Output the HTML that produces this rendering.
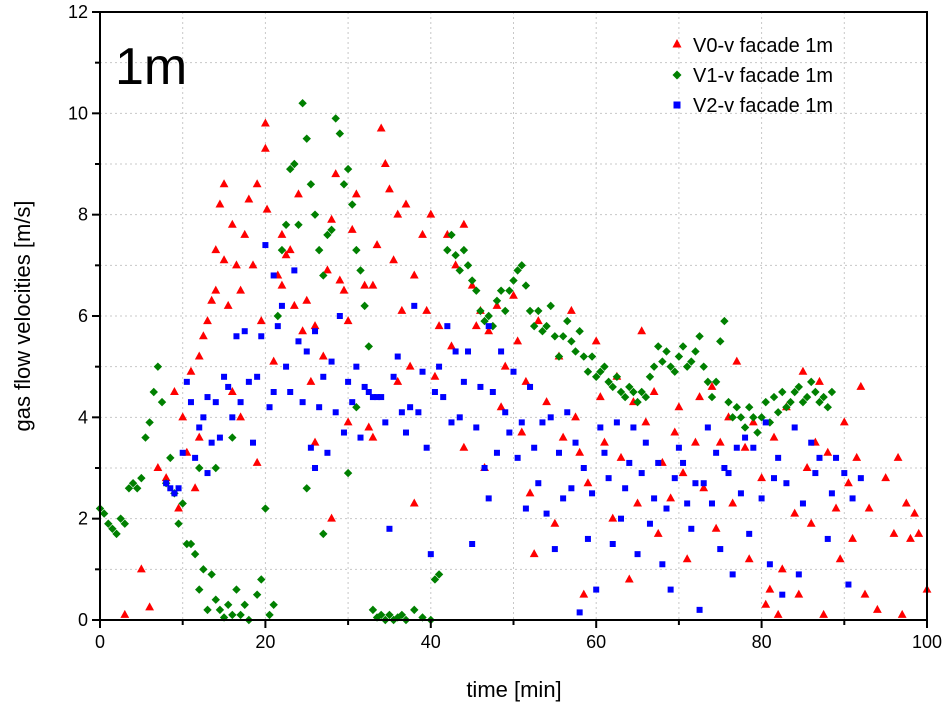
<!DOCTYPE html>
<html><head><meta charset="utf-8"><style>
body{margin:0;background:#fff;}
svg{display:block;font-family:"Liberation Sans",Arial,sans-serif;}
</style></head><body>
<svg id="chart" width="947" height="708" viewBox="0 0 947 708" xmlns="http://www.w3.org/2000/svg">
<g id="grid"></g>
<g id="pts"></g>
<g id="axes"></g>
<text x="115" y="84" font-size="52" fill="#000">1m</text>
<g>
<g><polygon points="677,39 681.5,47.5 672.5,47.5" fill="#ff0000"/><text x="693" y="52" font-size="20">V0-v facade 1m</text></g>
<g><polygon points="677,70.5 681.5,75 677,79.5 672.5,75" fill="#008000"/><text x="693" y="82" font-size="20">V1-v facade 1m</text></g>
<g><rect x="673.5" y="101.5" width="7" height="7" fill="#0000ff"/><text x="693" y="112" font-size="20">V2-v facade 1m</text></g>
</g>
<text x="514" y="697" font-size="22" text-anchor="middle">time [min]</text>
<text transform="translate(30,316) rotate(-90)" font-size="22" text-anchor="middle">gas flow velocities [m/s]</text>
</svg>
<script>
const xTicks=[0,20,40,60,80,100];
const yTicks=[0,2,4,6,8,10,12];
const v0=[3,0.1,5,1,6,0.25,7,3,8,2.8,9,4.5,9.5,2.2,10,4.0,10.5,3.3,11,4.9,11.5,2.6,12,5.2,12,3.6,12.5,5.6,13,5.9,13.5,6.3,14,6.5,14,7.3,14.5,8.2,15,8.6,15,7.1,15.5,6.2,16,7.8,16,4.5,16.5,7.0,17,6.5,17.5,7.6,18,8.3,18.5,7.0,19,8.6,19.5,5.9,20,9.8,20,9.3,20.2,8.1,21,5.1,21.5,6.8,22,7.6,22.5,7.2,23,7.3,23.5,6.2,24,8.4,24.5,5.7,25,6.3,25.5,4.7,26,5.8,27,5.2,27.5,6.9,28,7.9,28.5,8.8,29,6.7,29.5,6.5,30,5.9,30.5,7.7,31,8.4,32,6.6,32.5,3.8,33,6.6,33.5,7.4,34,9.7,34.5,9.0,35,8.5,35.5,7.1,36,8.0,36.5,6.1,37,8.2,37.5,5.0,38,6.8,39,7.6,39.5,6.1,40,8.0,40.5,4.8,41,5.8,42,7.6,42.5,5.4,43,7.0,44,7.8,45,6.6,45.5,5.8,46,6.1,46.5,3.0,47,5.7,48,6.2,48.5,4.2,49,5.0,50,6.4,50.5,5.5,51,3.7,51.5,4.7,52,2.5,52.5,1.3,53,5.9,54,4.3,55,1.9,55.5,5.2,56,3.6,57,6.1,57.5,4.0,58,3.3,58.5,0.5,59,2.7,60,5.5,60.5,4.4,61,3.5,62,2.0,62.5,4.8,63,3.2,64,0.8,64.5,4.3,65,2.3,65.5,5.7,66,3.9,67,4.5,67.5,1.7,68,3.1,69,2.4,69.5,3.7,70,4.2,70.5,2.9,71,1.2,72,3.5,72.5,4.4,73,2.6,74,4.6,74.5,1.8,75,3.5,76,4.0,76.5,2.3,77,5.1,78,3.4,78.5,1.2,79,3.9,80,2.8,80.5,0.3,81,0.6,81.5,3.6,82,0.1,82.5,1.0,83,4.2,84,2.1,84.5,0.5,85,4.9,85.5,3.0,86,1.9,86.5,3.5,87,4.7,87.5,0.1,88,3.3,89,2.2,89.5,1.2,90,3.9,90.5,2.7,91,1.6,91.5,3.2,92,4.6,92.5,0.5,93,2.2,94,0.2,95,2.8,96,1.7,96.5,3.2,97,0.1,97.5,2.3,98,1.6,98.5,2.1,99,1.7,100,0.6,17,4.0,22,6.6,26,3.5,30,3.9,36,4.7,38,2.3,33,3.6,19,3.1,28,2.0,44,3.4];
const v1=[0,2.2,0.5,2.1,1,1.9,1.5,1.8,2,1.7,2.5,2.0,3,1.9,3.5,2.6,4,2.7,4.5,2.6,5,2.8,5.5,3.6,6,3.9,6.5,4.5,7,5.0,7.5,4.3,8,2.7,8.5,3.2,9,2.5,9.5,1.9,10,2.3,10.5,1.5,11,1.5,11.5,1.3,12,0.6,12.5,1.0,13,0.2,13.5,0.9,14,0.4,14.5,0.2,15,0.05,15.5,0.3,16,0.1,16.5,0.6,17,0.1,17.5,0.3,18,0.0,19,0.5,19.5,0.8,20,2.2,20.5,0.1,21,0.3,21.5,6.0,22,7.3,22.5,7.8,23,8.9,23.5,9.0,24,7.8,24.5,10.2,25,9.5,25.5,8.6,26,8.0,26.5,7.3,27,6.8,27.5,7.6,28,7.7,28.5,9.9,29,9.6,29.5,8.6,30,8.9,30.5,8.2,31,7.3,31.5,6.9,32,6.2,32.5,5.4,33,0.2,33.5,0.05,34,0.1,34.5,0.0,35,0.1,35.5,0.0,36,0.05,36.5,0.1,37,0.0,38,0.2,39,0.05,40,0.0,40.5,0.8,41,0.9,42,7.3,42.5,7.6,43,7.2,43.5,6.9,44,7.3,44.5,7.0,45,6.7,45.5,6.5,46,6.1,46.5,5.9,47,6.0,47.5,5.8,48,6.3,48.5,6.5,49,6.1,49.5,6.5,50,6.7,50.5,6.9,51,7.0,51.5,6.6,52,6.1,52.5,5.8,53,6.1,53.5,5.7,54,5.8,54.5,6.2,55,5.6,55.5,5.2,56,5.6,56.5,5.9,57,5.5,57.5,5.3,58,5.7,58.5,5.2,59,4.9,59.5,5.2,60,4.8,60.5,4.9,61,5.0,61.5,4.7,62,4.6,62.5,4.8,63,4.5,63.5,4.4,64,4.6,64.5,4.5,65,4.3,65.5,4.5,66,4.4,66.5,4.8,67,5.0,67.5,5.4,68,5.1,68.5,5.3,69,5.0,69.5,4.9,70,5.2,70.5,5.4,71,5.0,71.5,5.1,72,5.3,72.5,5.6,73,5.0,73.5,4.7,74,4.4,74.5,4.7,75,5.5,75.5,5.9,76,4.3,76.5,4.0,77,4.2,77.5,4.0,78,3.8,78.5,4.2,79,4.0,79.5,3.7,80,4.0,80.5,4.3,81,3.9,81.5,4.4,82,4.1,82.5,4.5,83,4.2,83.5,4.3,84,4.5,84.5,4.6,85,4.3,85.5,4.4,86,4.7,86.5,4.5,87,4.3,87.5,4.4,88,4.2,88.5,4.5,14,3.0,16,3.6,12,3.0,27,1.7,30,2.9,25,2.6,31,4.2];
const v2=[8,2.7,8.5,2.6,9,2.5,9.5,2.6,10,3.3,10.5,4.7,11,4.3,11.5,3.2,12,3.8,12.5,4.0,13,4.4,13.5,3.5,14,4.3,14.5,3.6,15,4.8,15.5,4.6,16,4.0,16.5,5.6,17,4.3,17.5,5.7,18,4.7,18.5,3.5,19,4.8,19.5,5.6,20,7.4,20.5,4.2,21,6.8,21.5,5.8,22,6.2,22.5,5.0,23,4.5,23.5,6.9,24,5.5,24.5,4.3,25,5.3,25.5,3.4,26,5.7,26.5,4.2,27,4.8,27.5,3.3,28,5.1,28.5,4.1,29,6.0,29.5,3.7,30,4.7,30.5,4.3,31,5.0,31.5,3.6,32,4.6,32.5,4.5,33,4.4,33.5,4.4,34,4.4,34.5,3.9,35,1.8,35.5,4.8,36,5.2,36.5,4.1,37,3.7,37.5,4.2,38,6.2,38.5,4.1,39,4.9,39.5,3.4,40,1.3,40.5,4.5,41,5.0,41.5,4.4,42,5.8,42.5,3.9,43,5.3,43.5,4.0,44,4.7,44.5,5.3,45,1.5,45.5,3.8,46,4.6,46.5,3.0,47,5.8,47.5,4.5,48,3.3,48.5,5.3,49,4.1,49.5,3.7,50,4.9,50.5,3.2,51,3.9,51.5,2.2,52,4.6,52.5,3.4,53,2.7,53.5,3.9,54,2.1,54.5,4.0,55,1.4,55.5,3.3,56,2.4,56.5,4.1,57,2.6,57.5,3.5,58,0.15,58.5,3.0,59,1.6,59.5,2.5,60,0.6,60.5,3.8,61,3.3,61.5,2.8,62,1.5,62.5,3.9,63,2.0,63.5,2.6,64,3.1,64.5,3.8,65,1.3,65.5,2.9,66,3.5,66.5,1.9,67,2.4,67.5,3.1,68,1.1,68.5,2.2,69,0.6,69.5,2.8,70,3.4,70.5,3.1,71,2.3,71.5,1.8,72,2.7,72.5,0.2,73,2.7,73.5,3.8,74,2.3,74.5,3.3,75,1.4,75.5,3.0,76,2.9,76.5,0.9,77,3.4,77.5,2.5,78,3.6,78.5,1.7,79,3.4,80,2.4,80.5,3.9,81,1.1,81.5,2.8,82,3.2,82.5,0.5,83,2.7,84,3.8,84.5,0.9,85,2.3,86,3.5,86.5,2.9,87,3.2,88,1.6,88.5,2.5,89,3.2,90,2.9,90.5,0.7,91,2.4,92,2.8,13,2.9,21,4.5,26,3.0,47,2.4];

const L=100,R=927,T=12,B=620;
function sx(v){return L+(v-0)/(100-0)*(R-L);}
function sy(v){return B-(v-0)/(12-0)*(B-T);}
const NS="http://www.w3.org/2000/svg";
function mk(tag,attrs,parent){const e=document.createElementNS(NS,tag);for(const k in attrs)e.setAttribute(k,attrs[k]);parent.appendChild(e);return e;}
const grid=document.getElementById('grid'),pts=document.getElementById('pts'),axes=document.getElementById('axes');
for(let v=10;v<100;v+=10){const g=mk('line',{x1:sx(v),x2:sx(v),y1:T,y2:B,stroke:'#c8c8c8','stroke-width':1,'stroke-dasharray':'2,3'},grid);

}
for(let v=1;v<12;v+=1){const g=mk('line',{x1:L,x2:R,y1:sy(v),y2:sy(v),stroke:'#c8c8c8','stroke-width':1,'stroke-dasharray':'2,3'},grid);

}
function drawSeries(arr,kind,color,name){
 for(let i=0;i<arr.length;i+=2){const x=sx(arr[i]),y=sy(arr[i+1]);let e;
  if(kind==='tri')e=mk('polygon',{points:`${x},${y-5} ${x+4.4},${y+3} ${x-4.4},${y+3}`,fill:color},pts);
  else if(kind==='dia')e=mk('polygon',{points:`${x},${y-4.2} ${x+4.2},${y} ${x},${y+4.2} ${x-4.2},${y}`,fill:color},pts);
  else e=mk('rect',{x:x-3,y:y-3,width:6,height:6,fill:color},pts);
  
  }
}
drawSeries(v0,'tri','#ff0000','v0-point');
drawSeries(v1,'dia','#008000','v1-point');
drawSeries(v2,'sq','#0000ff','v2-point');
const fr=mk('rect',{x:L,y:T,width:R-L,height:B-T,fill:'none',stroke:'#000','stroke-width':2},axes);


for(let v=0;v<=100;v+=10){const major=xTicks.includes(v);const t=mk('line',{x1:sx(v),x2:sx(v),y1:B,y2:B+(major?8:5),stroke:'#000','stroke-width':2},axes);

}
for(let v=0;v<=12;v+=1){const major=yTicks.includes(v);const t=mk('line',{x1:L,x2:L-(major?8:5),y1:sy(v),y2:sy(v),stroke:'#000','stroke-width':2},axes);

}
xTicks.forEach(v=>{const t=mk('text',{x:sx(v),y:B+28,'font-size':18,'text-anchor':'middle'},axes);t.textContent=v;

});
yTicks.forEach(v=>{const t=mk('text',{x:L-12,y:sy(v)+6,'font-size':18,'text-anchor':'end'},axes);t.textContent=v;

});
</script>
</body></html>
